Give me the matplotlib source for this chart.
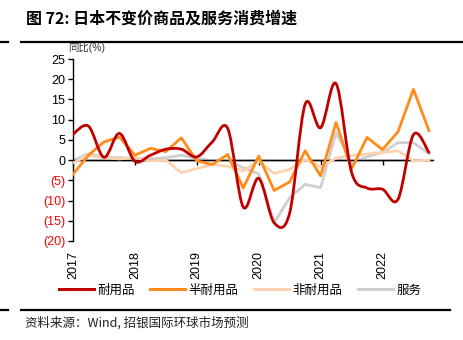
import numpy as np
import matplotlib
matplotlib.use("Agg")
import matplotlib.pyplot as plt
from matplotlib.path import Path
from matplotlib.patches import PathPatch
from matplotlib.lines import Line2D

plt.rcParams['font.family'] = ['Liberation Sans', 'Noto Sans CJK SC', 'DejaVu Sans']

# Quarterly data, 2017Q1 .. 2022Q4
quarters = [2017 + i / 4 for i in range(24)]
durable = [6.4, 8.4, 0.7, 6.6, -0.3, 1.2, 2.7, 2.7, 0.8, 4.5, 7.8, -11.6,
           -4.5, -15.5, -13.1, 13.8, 8.0, 18.9, -3.0, -6.9, -7.2, -9.7, 6.3, 1.9]
semi_durable = [-3.5, 1.2, 4.5, 5.7, 1.2, 2.9, 2.1, 5.5, -0.2, -1.1, 1.4, -6.9,
                1.0, -7.5, -5.4, 2.3, -3.9, 9.3, -2.2, 5.6, 2.6, 7.0, 17.5, 7.3]
non_durable = [-0.7, 1.2, 0.6, 0.3, 0.6, -0.2, 0.0, -3.1, -2.1, -1.1, -1.5, -2.7,
               -0.2, -3.3, -2.3, 0.2, -1.7, 0.5, 1.1, 1.5, 1.9, 2.3, -0.2, 0.0]
services = [-0.1, 1.6, 0.8, 0.6, 0.4, 0.3, 0.6, 1.2, 0.4, -0.1, -0.1, -1.9,
            -3.4, -15.5, -9.3, -6.0, -6.8, 6.8, -0.6, 0.8, 1.9, 4.3, 4.3, 1.6]
series_names = ['耐用品', '半耐用品', '非耐用品', '服务']
colors = ['#C00000', '#FF8C1A', '#FCD3AE', '#CFCFCF']
year_ticks = [2017, 2018, 2019, 2020, 2021, 2022]
y_ticks = [25, 20, 15, 10, 5, 0, -5, -10, -15, -20]

W, H = 464, 340
fig = plt.figure(figsize=(W / 100, H / 100), dpi=100)

# axes: left x=73, right ~433, top y=59 (25), bottom y=241 (-20)
ax = fig.add_axes([73 / W, 1 - 241 / H, (433 - 73) / W, (241 - 59) / H])
ax.set_xlim(2017, 2017 + (433 - 73) / 61.9)
ax.set_ylim(-20, 25)


def smooth_path(xs, ys, t=1 / 6):
    xs = np.asarray(xs, float)
    ys = np.asarray(ys, float)
    n = len(xs)
    verts = [(xs[0], ys[0])]
    codes = [Path.MOVETO]
    for i in range(n - 1):
        p0 = np.array([xs[max(i - 1, 0)], ys[max(i - 1, 0)]])
        p1 = np.array([xs[i], ys[i]])
        p2 = np.array([xs[i + 1], ys[i + 1]])
        p3 = np.array([xs[min(i + 2, n - 1)], ys[min(i + 2, n - 1)]])
        c1 = p1 + (p2 - p0) * t
        c2 = p2 - (p3 - p1) * t
        verts += [tuple(c1), tuple(c2), tuple(p2)]
        codes += [Path.CURVE4] * 3
    return Path(verts, codes)


ax.axhline(0, color='black', lw=1.0, zorder=1)
ax.plot(quarters, services, color=colors[3], lw=2.0, zorder=2)
ax.plot(quarters, non_durable, color=colors[2], lw=2.0, zorder=3)
ax.plot(quarters, semi_durable, color=colors[1], lw=2.0, zorder=4)
ax.add_patch(PathPatch(smooth_path(quarters, durable), facecolor='none',
                       edgecolor=colors[0], lw=2.0, zorder=5, capstyle='round'))

for s in ['top', 'right']:
    ax.spines[s].set_visible(False)
ax.spines['left'].set_linewidth(1.0)
ax.spines['bottom'].set_position(('data', 0))
ax.spines['bottom'].set_linewidth(1.0)
ax.set_xticks(year_ticks)
ax.tick_params(axis='x', direction='out', length=3.5, width=1, labelbottom=False)
ax.set_yticks(y_ticks)
ax.set_yticklabels([str(v) if v >= 0 else f'({-v})' for v in y_ticks])
ax.tick_params(axis='y', direction='out', length=3.5, width=1, labelsize=9, pad=2)
for lbl, v in zip(ax.get_yticklabels(), y_ticks):
    lbl.set_color('black' if v >= 0 else '#FF0000')

sec = ax.secondary_xaxis('bottom')
sec.set_xticks(year_ticks)
sec.set_xticklabels([str(y) for y in year_ticks], rotation=90, fontsize=9)
sec.tick_params(length=0, pad=7)
sec.spines['bottom'].set_visible(False)

fig.text(68 / W, 1 - 47 / H, '同比(%)', fontsize=7.5, color='#333333',
         va='center', ha='left')

# title and rules
fig.text(26 / W, 1 - 19 / H, '图 72: 日本不变价商品及服务消费增速', fontsize=11.5,
         fontweight='bold', va='center', ha='left',
         family=['Noto Sans CJK SC', 'DejaVu Sans'])
fig.add_artist(Line2D([21 / W, 462 / W], [1 - 42 / H] * 2, color='black', lw=1.6))
fig.add_artist(Line2D([0, 8 / W], [1 - 42 / H] * 2, color='black', lw=1.6))
fig.add_artist(Line2D([21 / W, 450 / W], [1 - 310 / H] * 2, color='black', lw=1.6))
fig.add_artist(Line2D([0, 8 / W], [1 - 310 / H] * 2, color='black', lw=1.6))

# legend
handles = [Line2D([], [], color=c, lw=2.2) for c in colors]
fig.legend(handles, series_names, loc='center', bbox_to_anchor=(240 / W, 1 - 290 / H),
           ncol=4, frameon=False, handlelength=2.8, handletextpad=0.3,
           columnspacing=1.2, prop={'family': 'Noto Sans CJK SC', 'size': 9})

fig.text(25 / W, 1 - 323 / H, '资料来源：Wind, 招银国际环球市场预测', fontsize=9,
         va='center', ha='left', color='#222222',
         family=['Noto Sans CJK SC', 'DejaVu Sans'])

fig.savefig('out.png', dpi=100)
